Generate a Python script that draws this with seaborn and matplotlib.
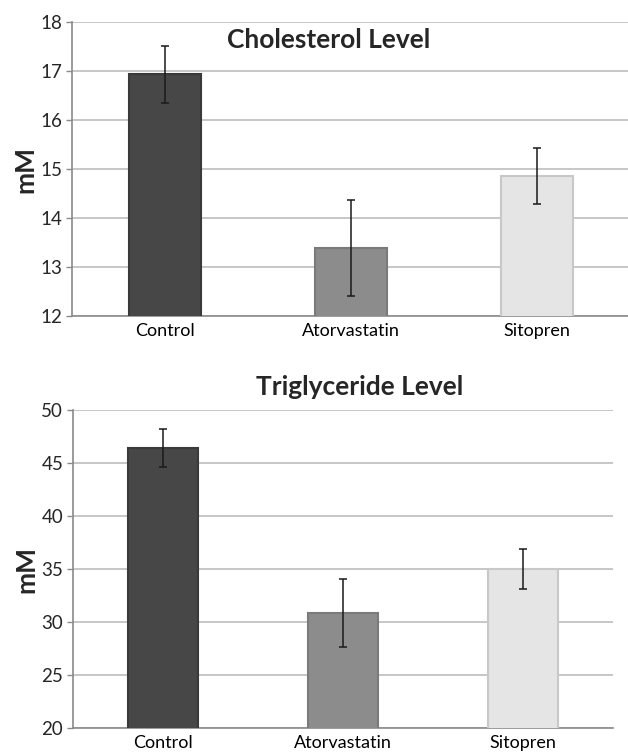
"""Cholesterol and triglyceride levels per treatment group, two stacked bar panels."""

import matplotlib

matplotlib.use("Agg")
import matplotlib.pyplot as plt  # noqa: E402
import seaborn as sns  # noqa: E402

GROUPS = ["Control", "Atorvastatin", "Sitopren"]

CHOL_MEAN = [16.93, 13.39, 14.86]
CHOL_ERR = [0.59, 0.98, 0.57]

TRIG_MEAN = [46.45, 30.84, 35.0]
TRIG_ERR = [1.78, 3.22, 1.90]

BAR_COLORS = ["#474747", "#8c8c8c", "#e5e5e5"]
EDGE_COLORS = ["#3a3a3a", "#7a7a7a", "#c8c8c8"]
GRID_COLOR = "#bdbdbd"
SPINE_COLOR = "#8a8a8a"

sns.set_theme(style="white")
plt.rcParams["font.family"] = ["Lato", "DejaVu Sans"]


def draw_panel(ax, means, errs, yticks):
    sns.barplot(
        x=GROUPS,
        y=means,
        hue=GROUPS,
        palette=BAR_COLORS,
        width=0.39,
        legend=False,
        ax=ax,
        zorder=3,
    )
    for patch, edge in zip(ax.patches, EDGE_COLORS):
        patch.set_edgecolor(edge)
        patch.set_linewidth(1.5)
    ax.errorbar(
        range(len(GROUPS)),
        means,
        yerr=errs,
        fmt="none",
        ecolor="#1a1a1a",
        elinewidth=1.1,
        capsize=3,
        capthick=1.1,
        zorder=4,
    )
    ax.set_ylim(yticks[0], yticks[-1])
    ax.set_yticks(yticks)
    ax.set_xlim(-0.5, 2.5)
    ax.yaxis.grid(True, color=GRID_COLOR, linewidth=1.2, zorder=0)
    ax.set_axisbelow(True)
    for side in ("top", "right"):
        ax.spines[side].set_visible(False)
    for side in ("left", "bottom"):
        ax.spines[side].set_color(SPINE_COLOR)
        ax.spines[side].set_linewidth(1.2)
    ax.set_xticks([0.5, 1.5, 2.5], minor=True)
    ax.tick_params(axis="x", which="major", length=0, pad=5, labelsize=13, colors="black")
    ax.tick_params(axis="x", which="minor", length=4, width=1, color=SPINE_COLOR, direction="out")
    ax.tick_params(axis="y", length=4, width=1, color=SPINE_COLOR, direction="out",
                   left=True, labelsize=13.5, pad=3)
    ax.set_ylabel("mM", fontsize=19, fontweight="bold", labelpad=2)


fig = plt.figure(figsize=(6.28, 7.54), dpi=100)
ax_top = fig.add_axes([0.1146, 0.5809, 0.8885, 0.3899])
ax_bot = fig.add_axes([0.1162, 0.0341, 0.8599, 0.4221])

draw_panel(ax_top, CHOL_MEAN, CHOL_ERR, list(range(12, 19)))
draw_panel(ax_bot, TRIG_MEAN, TRIG_ERR, list(range(20, 51, 5)))

# titles placed in figure pixels (from the top edge)
fig.text(329 / 628, 1 - 40 / 754, "Cholesterol Level",
         ha="center", va="center", fontsize=19, fontweight="bold")
fig.text(360 / 628, 1 - 387 / 754, "Triglyceride Level",
         ha="center", va="center", fontsize=19, fontweight="bold")

fig.savefig("out.png", dpi=100)
